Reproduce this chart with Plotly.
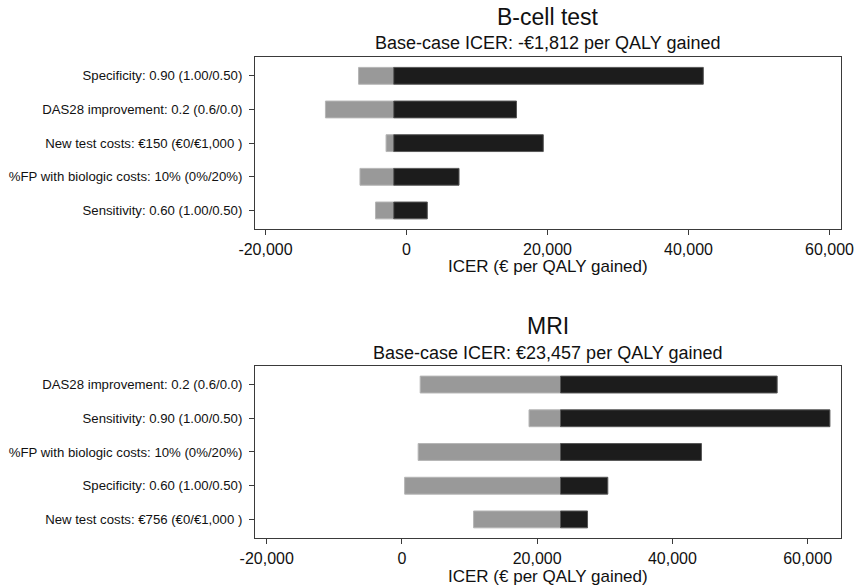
import plotly.graph_objects as go

W, H = 858, 585

# ---- data ----
bcell_labels = [
    "Specificity: 0.90 (1.00/0.50)",
    "DAS28 improvement: 0.2 (0.6/0.0)",
    "New test costs: €150 (€0/€1,000 )",
    "%FP with biologic costs: 10% (0%/20%)",
    "Sensitivity: 0.60 (1.00/0.50)",
]
bcell_base = -1812
bcell_low = [-6800, -11500, -2900, -6600, -4400]
bcell_high = [42100, 15600, 19400, 7450, 2950]

mri_labels = [
    "DAS28 improvement: 0.2 (0.6/0.0)",
    "Sensitivity: 0.90 (1.00/0.50)",
    "%FP with biologic costs: 10% (0%/20%)",
    "Specificity: 0.60 (1.00/0.50)",
    "New test costs: €756 (€0/€1,000 )",
]
mri_base = 23457
mri_low = [2700, 18800, 2400, 400, 10600]
mri_high = [55500, 63300, 44300, 30450, 27450]

x_ticks = [-20000, 0, 20000, 40000, 60000]
x_ticktext = ["-20,000", "0", "20,000", "40,000", "60,000"]

titles = ["B-cell test", "MRI"]
subtitles = ["Base-case ICER: -€1,812 per QALY gained", "Base-case ICER: €23,457 per QALY gained"]
xlabel = "ICER (€ per QALY gained)"

FONT = "Liberation Sans, Arial, Helvetica, sans-serif"
GRAY = "#999999"
BLACK = "#1c1c1c"
FRAME = "#3a3a3a"

fig = go.Figure()

def add_panel(labels, base, low, high, xa, ya):
    fig.add_trace(go.Bar(
        y=labels, x=[l - base for l in low], base=[base] * len(labels),
        orientation="h", width=0.5, xaxis=xa, yaxis=ya,
        marker=dict(color=GRAY, line=dict(color="#b5b5b5", width=1)),
        showlegend=False, hoverinfo="skip"))
    fig.add_trace(go.Bar(
        y=labels, x=[h - base for h in high], base=[base] * len(labels),
        orientation="h", width=0.5, xaxis=xa, yaxis=ya,
        marker=dict(color=BLACK, line=dict(color="#555555", width=1)),
        showlegend=False, hoverinfo="skip"))

add_panel(bcell_labels, bcell_base, bcell_low, bcell_high, "x", "y")
add_panel(mri_labels, mri_base, mri_low, mri_high, "x2", "y2")

def px_x(p):
    return p / W

def px_y(p):
    return 1 - p / H

xdom = [px_x(255), px_x(841)]
common_x = dict(
    tickmode="array", tickvals=x_ticks, ticktext=x_ticktext,
    showgrid=False, zeroline=False, showline=True, mirror=True,
    linecolor=FRAME, linewidth=1, ticks="outside", ticklen=5,
    tickcolor=FRAME, tickfont=dict(size=16, color="#111"),
    domain=xdom,
)
common_y = dict(
    type="category", showgrid=False, zeroline=False, showline=True,
    mirror=True, linecolor=FRAME, linewidth=1, ticks="outside",
    ticklen=5, tickcolor=FRAME, tickfont=dict(size=13.2, color="#111"),
    ticklabelstandoff=4, range=[4.56, -0.55],
)

fig.update_layout(
    width=W, height=H,
    margin=dict(l=0, r=0, t=0, b=0, autoexpand=False),
    paper_bgcolor="white", plot_bgcolor="white",
    font=dict(family=FONT, color="#111"),
    barmode="overlay",
    xaxis=dict(**common_x, range=[-21490, 61630], anchor="y"),
    yaxis=dict(**common_y, domain=[px_y(229.3), px_y(57.3)], anchor="x"),
    xaxis2=dict(**common_x, range=[-21730, 64940], anchor="y2"),
    yaxis2=dict(**common_y, domain=[px_y(538.3), px_y(366)], anchor="x2"),
)

cx = (xdom[0] + xdom[1]) / 2
ann = [
    (titles[0], 17, 23), (subtitles[0], 43, 18), (xlabel, 266.5, 17),
    (titles[1], 325.5, 23), (subtitles[1], 352.5, 18), (xlabel, 576.5, 17),
]
for text, y, size in ann:
    fig.add_annotation(text=text, x=cx, y=px_y(y), xref="paper", yref="paper",
                       xanchor="center", yanchor="middle", showarrow=False,
                       font=dict(size=size, color="#111", family=FONT))

fig.write_html(
    "out.html",
    config={"displayModeBar": False},
    post_script="document.body.style.margin='0';document.body.style.overflow='hidden';",
)
